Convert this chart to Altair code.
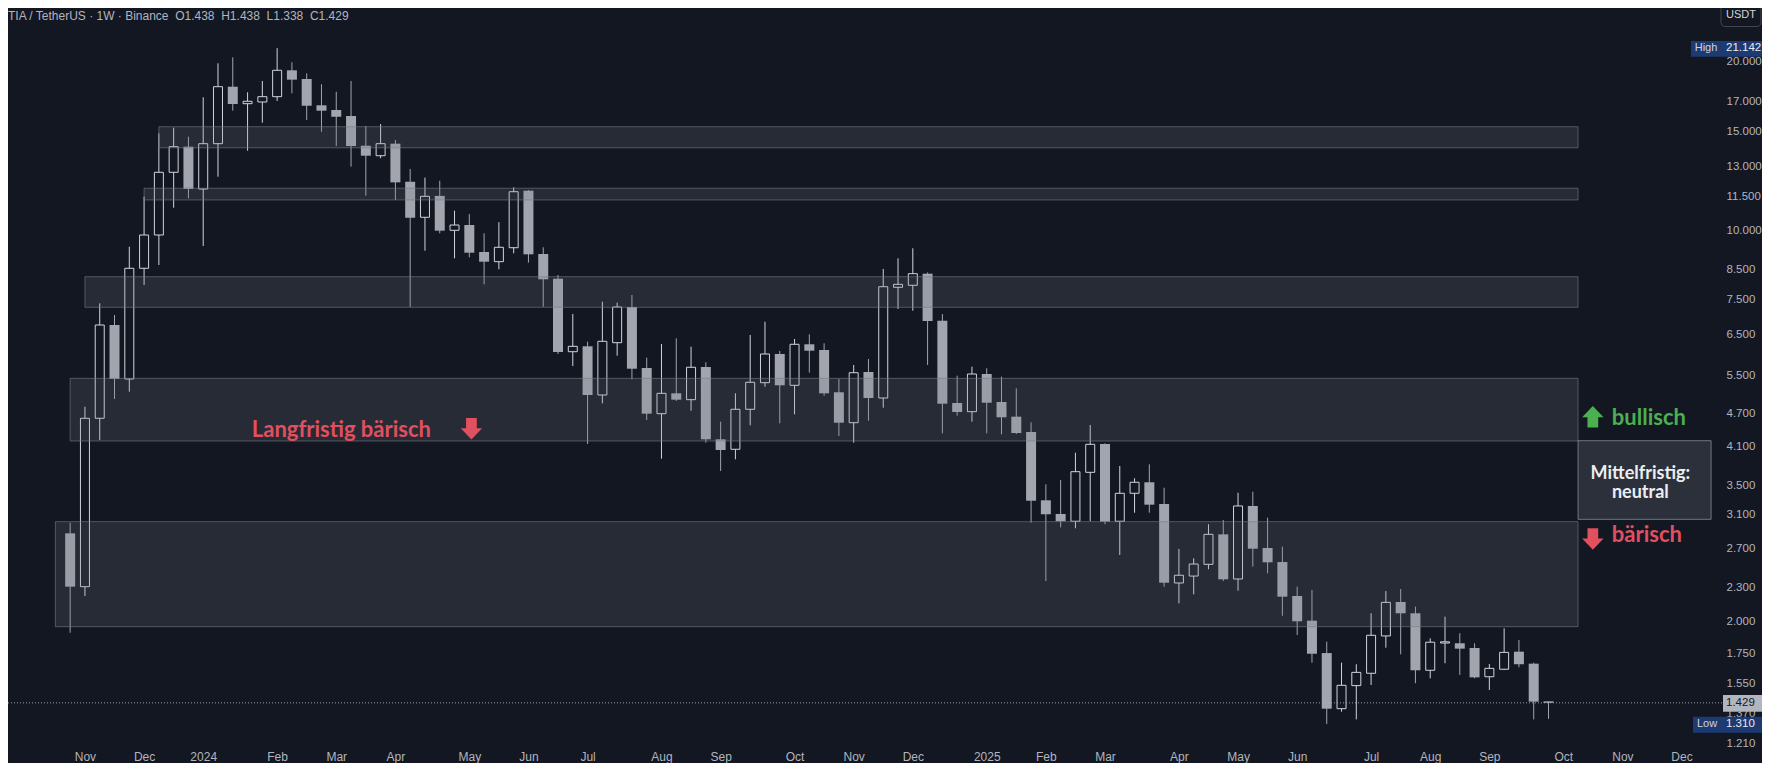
import json
import altair as alt
import pandas as pd

# ---------------- data (weekly TIA/USDT candles) ----------------
first_week = "2023-10-30"
opens = [2.871, 2.305, 4.609, 6.766, 5.418, 8.545, 9.799, 12.684, 14.094, 11.840,
         14.268, 18.040, 16.823, 16.940, 17.314, 19.300, 18.620, 16.710, 16.390, 15.990,
         14.150, 13.580, 14.270, 12.200, 10.540, 11.510, 9.990, 10.210, 9.137, 8.780,
         9.300, 11.760, 9.063, 8.186, 6.062, 6.198, 5.073, 6.291, 7.286, 5.669,
         4.697, 5.108, 4.976, 5.692, 4.227, 4.057, 4.783, 5.336, 6.005, 5.279,
         6.250, 6.105, 5.130, 4.526, 5.576, 5.010, 7.902, 7.967, 8.357, 6.886,
         4.908, 4.736, 5.530, 4.929, 4.640, 4.356, 3.289, 3.109, 3.017, 3.690,
         4.146, 3.017, 3.385, 3.542, 3.239, 2.340, 2.408, 2.527, 2.859, 2.379,
         3.213, 2.703, 2.551, 2.218, 2.004, 1.754, 1.395, 1.534, 1.614, 1.882,
         2.164, 2.066, 1.634, 1.828, 1.826, 1.791, 1.591, 1.641, 1.764, 1.679,
         1.438]
highs = [2.999, 4.834, 7.398, 7.050, 9.339, 11.473, 14.892, 15.240, 14.685, 17.272,
         19.864, 20.360, 17.630, 18.470, 21.142, 19.950, 19.060, 18.220, 17.670, 18.470,
         15.350, 15.470, 14.490, 12.860, 12.410, 12.250, 10.830, 10.680, 9.868, 10.330,
         11.920, 11.790, 9.316, 8.312, 7.079, 6.317, 7.447, 7.417, 7.655, 5.914,
         6.257, 6.406, 6.188, 5.803, 4.545, 5.108, 6.494, 6.858, 6.079, 6.388,
         6.512, 6.275, 5.418, 5.740, 5.883, 8.520, 8.903, 9.278, 8.400, 7.079,
         5.492, 5.699, 5.662, 5.470, 5.214, 4.534, 3.513, 3.576, 4.000, 4.484,
         4.158, 3.788, 3.601, 3.814, 3.464, 2.692, 2.591, 2.980, 3.033, 3.393,
         3.407, 3.062, 2.717, 2.305, 2.274, 1.838, 1.686, 1.675, 2.066, 2.264,
         2.283, 2.123, 1.864, 2.037, 1.903, 1.826, 1.677, 1.942, 1.851, 1.686,
         1.438]
lows = [1.907, 2.218, 4.215, 4.990, 5.142, 7.976, 8.661, 10.964, 11.398, 9.366,
        12.456, 16.344, 13.862, 15.556, 17.010, 17.560, 15.730, 14.990, 14.130, 12.980,
        11.520, 13.440, 11.320, 7.286, 9.186, 9.868, 8.903, 8.940, 7.999, 8.510,
        9.088, 8.744, 7.295, 6.005, 5.716, 4.146, 4.902, 5.963, 5.411, 4.577,
        3.903, 4.950, 4.755, 4.169, 3.710, 3.893, 4.478, 5.249, 4.515, 4.685,
        5.560, 5.058, 4.285, 4.169, 4.564, 4.814, 7.227, 7.177, 5.740, 4.333,
        4.659, 4.545, 4.333, 4.315, 4.320, 2.999, 2.359, 2.943, 2.931, 3.017,
        2.980, 2.626, 3.125, 3.125, 2.305, 2.152, 2.234, 2.476, 2.359, 2.267,
        2.503, 2.435, 2.045, 1.889, 1.686, 1.310, 1.378, 1.335, 1.538, 1.793,
        1.745, 1.549, 1.581, 1.682, 1.603, 1.581, 1.507, 1.636, 1.654, 1.335,
        1.338]
closes = [2.305, 4.609, 6.766, 5.418, 8.545, 9.799, 12.684, 14.094, 11.840, 14.268,
          18.040, 16.802, 16.990, 17.314, 19.300, 18.570, 16.680, 16.344, 15.940, 14.130,
          13.580, 14.270, 12.170, 10.520, 11.490, 9.974, 10.210, 9.111, 8.780, 9.316,
          11.710, 9.051, 8.166, 6.054, 6.198, 5.073, 6.327, 7.286, 5.652, 4.697,
          5.108, 4.976, 5.686, 4.227, 4.045, 4.783, 5.345, 6.005, 5.279, 6.250,
          6.087, 5.108, 4.526, 5.560, 5.010, 7.921, 7.999, 8.357, 6.878, 4.894,
          4.730, 5.530, 4.914, 4.628, 4.338, 3.283, 3.105, 3.017, 3.700, 4.141,
          3.012, 3.385, 3.542, 3.230, 2.343, 2.416, 2.530, 2.859, 2.376, 3.213,
          2.695, 2.548, 2.212, 1.999, 1.749, 1.395, 1.536, 1.620, 1.887, 2.161,
          2.066, 1.634, 1.834, 1.837, 1.786, 1.587, 1.647, 1.759, 1.675, 1.436,
          1.429]

# support / resistance zones
zone_start = ["2023-12-11", "2023-12-04", "2023-11-06", "2023-10-30", "2023-10-23"]
zone_end = ["2025-10-13", "2025-10-13", "2025-10-13", "2025-10-13", "2025-10-13"]
zone_top = [15.30, 11.88, 8.254, 5.433, 3.012]
zone_bottom = [14.03, 11.32, 7.277, 4.198, 1.955]

# x-axis ticks (first weekly bar of each month)
tick_dates = ["2023-11-06", "2023-12-04", "2024-01-01", "2024-02-05", "2024-03-04", "2024-04-01",
              "2024-05-06", "2024-06-03", "2024-07-01", "2024-08-05", "2024-09-02", "2024-10-07",
              "2024-11-04", "2024-12-02", "2025-01-06", "2025-02-03", "2025-03-03", "2025-04-07",
              "2025-05-05", "2025-06-02", "2025-07-07", "2025-08-04", "2025-09-01", "2025-10-06",
              "2025-11-03", "2025-12-01"]
tick_labels = ["Nov", "Dec", "2024", "Feb", "Mar", "Apr", "May", "Jun", "Jul", "Aug", "Sep", "Oct",
               "Nov", "Dec", "2025", "Feb", "Mar", "Apr", "May", "Jun", "Jul", "Aug", "Sep", "Oct",
               "Nov", "Dec"]
price_ticks = [1.21, 1.37, 1.55, 1.75, 2.0, 2.3, 2.7, 3.1, 3.5, 4.1, 4.7, 5.5, 6.5, 7.5, 8.5,
               10.0, 11.5, 13.0, 15.0, 17.0, 20.0]

header = "TIA / TetherUS · 1W · Binance\u00a0\u00a0O1.438\u00a0\u00a0H1.438\u00a0\u00a0L1.338\u00a0\u00a0C1.429"
all_high, all_low, last_close = 21.142, 1.310, 1.429

# ---------------- style / layout ----------------
BG = "#131722"
BULL = "#d1d4dc"
BEAR = "#a2a5ad"
RED = "#e0505e"
GREEN = "#4caf50"
AXIS = "#b2b5be"
TAGBLUE = "#1e3a72"
W, H = 1714, 740          # plot area
SVG_W, SVG_H = 1754, 755  # whole chart (fits the window inside the 8px page margin)

UP = "M0,-1L1,0.05L0.5,0.05L0.5,1L-0.5,1L-0.5,0.05L-1,0.05Z"
DOWN = "M0,1L1,-0.05L0.5,-0.05L0.5,-1L-0.5,-1L-0.5,-0.05L-1,-0.05Z"

def ms(s):
    return int(pd.Timestamp(s).value // 10**6)

xscale = alt.Scale(type="utc", domain=[ms("2023-10-02T22:22:00Z"), ms("2025-12-17T19:00:00Z")])
yscale = alt.Scale(type="log", domain=[1.1867, 24.94], nice=False)

tick_ms = [ms(d + "T00:00:00Z") for d in tick_dates]
idx = f"indexof({json.dumps(tick_ms)}, time(datum.value))"
label_expr = (f"{idx} >= 0 ? {json.dumps(tick_labels)}[{idx}] : "
              "(utcmonth(datum.value) == 0 ? utcFormat(datum.value, '%Y') : utcFormat(datum.value, '%b'))")

xaxis = alt.Axis(values=tick_ms, labelExpr=label_expr, domain=False, ticks=False, tickSize=0,
                 grid=False, title=None, labelFont="Liberation Sans", labelFontSize=12,
                 labelColor=AXIS, labelPadding=8, labelBaseline="middle", labelFlush=False,
                 labelOverlap=False)
yaxis = alt.Axis(values=price_ticks, format=".3f", orient="right", domain=False, ticks=False,
                 tickSize=0, grid=False, title=None, labelFont="Liberation Sans", labelFontSize=11.5,
                 labelColor=AXIS, labelPadding=4, labelOverlap=False)

weeks = pd.date_range(first_week, periods=len(opens), freq="7D").strftime("%Y-%m-%d")
candles = pd.DataFrame({"date": weeks, "open": opens, "high": highs, "low": lows, "close": closes})
candles["bull"] = candles["close"] >= candles["open"]
candles["top"] = candles[["open", "close"]].max(axis=1)
candles["bottom"] = candles[["open", "close"]].min(axis=1)

X = alt.X("date:T", scale=xscale, axis=xaxis)
base = alt.Chart(candles)

wicks = base.mark_rule(strokeWidth=1).encode(
    x=X,
    y=alt.Y("low:Q", scale=yscale, axis=yaxis),
    y2="high:Q",
    color=alt.condition("datum.bull", alt.value(BULL), alt.value(BEAR)),
)
bear_bodies = base.transform_filter("!datum.bull").mark_bar(size=10, fill=BEAR, strokeWidth=0).encode(
    x=alt.X("date:T", scale=xscale), y=alt.Y("top:Q", scale=yscale), y2="bottom:Q")
bull_bodies = base.transform_filter("datum.bull").mark_bar(size=9, fill=BG, stroke=BULL, strokeWidth=1).encode(
    x=alt.X("date:T", scale=xscale), y=alt.Y("top:Q", scale=yscale), y2="bottom:Q")

zones_df = pd.DataFrame({"start": zone_start, "end": zone_end, "top": zone_top, "bottom": zone_bottom})
zones = alt.Chart(zones_df).mark_rect(fill="#787b86", fillOpacity=0.2, stroke="#787b86",
                                      strokeOpacity=0.6, strokeWidth=1).encode(
    x=alt.X("start:T", scale=xscale), x2="end:T",
    y=alt.Y("top:Q", scale=yscale), y2="bottom:Q")

neutral_df = pd.DataFrame({"start": ["2025-10-13"], "end": ["2025-12-15"], "top": [4.203], "bottom": [3.041]})
neutral_box = alt.Chart(neutral_df).mark_rect(fill="#787b86", fillOpacity=0.25, stroke="#9598a1",
                                              strokeOpacity=0.7, strokeWidth=1).encode(
    x=alt.X("start:T", scale=xscale), x2="end:T",
    y=alt.Y("top:Q", scale=yscale), y2="bottom:Q")

price_line = alt.Chart(pd.DataFrame({"price": [last_close]})).mark_rule(
    strokeDash=[1, 2], color=AXIS, strokeWidth=1, opacity=0.85).encode(
    y=alt.Y("price:Q", scale=yscale), x=alt.value(0), x2=alt.value(W))

def text_layer(df, **kw):
    return alt.Chart(df).mark_text(**kw).encode(
        x=alt.X("date:T", scale=xscale), y=alt.Y("price:Q", scale=yscale), text="text:N")

long_note = text_layer(pd.DataFrame({"date": ["2024-01-24"], "price": [4.273], "text": ["Langfristig bärisch"]}),
                       align="left", baseline="alphabetic", font="Lato", fontSize=22, fontWeight="bold", color=RED)
bull_note = text_layer(pd.DataFrame({"date": ["2025-10-29"], "price": [4.484], "text": ["bullisch"]}),
                       align="left", baseline="alphabetic", font="Lato", fontSize=22, fontWeight="bold", color=GREEN)
bear_note = text_layer(pd.DataFrame({"date": ["2025-10-29"], "price": [2.774], "text": ["bärisch"]}),
                       align="left", baseline="alphabetic", font="Lato", fontSize=22, fontWeight="bold", color=RED)
mid_note = text_layer(pd.DataFrame({"date": ["2025-11-11T12:00:00Z"] * 2, "price": [3.590, 3.316],
                                    "text": ["Mittelfristig:", "neutral"]}),
                      align="center", baseline="alphabetic", font="Lato", fontSize=18, fontWeight="bold", color="#eceef2")

def arrow_layer(date, price, shape, color):
    return alt.Chart(pd.DataFrame({"date": [date], "price": [price]})).mark_point(
        shape=shape, filled=True, size=460, opacity=1, color=color, strokeWidth=0).encode(
        x=alt.X("date:T", scale=xscale), y=alt.Y("price:Q", scale=yscale))

arrows = [arrow_layer("2024-05-07", 4.414, DOWN, RED),
          arrow_layer("2025-10-20", 4.640, UP, GREEN),
          arrow_layer("2025-10-20", 2.805, DOWN, RED)]

def tag(top, bottom, x0, x1, fill):
    return alt.Chart(pd.DataFrame({"top": [top], "bottom": [bottom]})).mark_rect(fill=fill).encode(
        x=alt.value(x0), x2=alt.value(x1), y=alt.Y("top:Q", scale=yscale), y2="bottom:Q")

def tag_text(price, text, x, color, align="left", size=11.5):
    return alt.Chart(pd.DataFrame({"price": [price], "text": [text]})).mark_text(
        align=align, baseline="middle", font="Liberation Sans", fontSize=size, color=color).encode(
        x=alt.value(x), y=alt.Y("price:Q", scale=yscale), text="text:N")

VX = W + 4  # value text start, same as axis labels
tags = [
    tag(1.476, 1.378, W + 1, SVG_W, "#b2b5be"), tag_text(last_close, f"{last_close:.3f}", VX, BG),
    tag(21.77, 20.41, 1683, SVG_W, TAGBLUE), tag_text(all_high, f"{all_high:.3f}", VX, "#e8eaf0"),
    tag_text(all_high, "High", 1698, BULL, align="center", size=11),
    tag(1.350, 1.264, 1685, SVG_W, TAGBLUE), tag_text(all_low, f"{all_low:.3f}", VX, "#e8eaf0"),
    tag_text(all_low, "Low", 1699, BULL, align="center", size=11),
]

one = pd.DataFrame({"text": [header]})
header_layer = alt.Chart(one).mark_text(align="left", baseline="alphabetic", font="Liberation Sans",
                                        fontSize=12, color=AXIS).encode(
    x=alt.value(0), y=alt.value(11.5), text="text:N")
usdt_box = alt.Chart(pd.DataFrame({"text": ["USDT"]})).mark_rect(
    fill=BG, stroke="#434651", strokeWidth=1, cornerRadius=4).encode(
    x=alt.value(1713), x2=alt.value(1753), y=alt.value(-7), y2=alt.value(18.5))
usdt_text = alt.Chart(pd.DataFrame({"text": ["USDT"]})).mark_text(
    align="center", baseline="middle", font="Liberation Sans", fontSize=11, color=BULL).encode(
    x=alt.value(1733), y=alt.value(7), text="text:N")

chart = alt.layer(
    wicks, bear_bodies, bull_bodies, zones, neutral_box, price_line,
    long_note, bull_note, bear_note, mid_note, *arrows, *tags,
    header_layer, usdt_box, usdt_text,
).properties(
    width=W, height=H, background=BG,
    padding={"left": 0, "top": 0, "right": SVG_W - W, "bottom": SVG_H - H},
    autosize=alt.AutoSizeParams(type="none"),
).configure_view(strokeWidth=0)

chart.save("out.html", embed_options={"renderer": "svg", "actions": False})
